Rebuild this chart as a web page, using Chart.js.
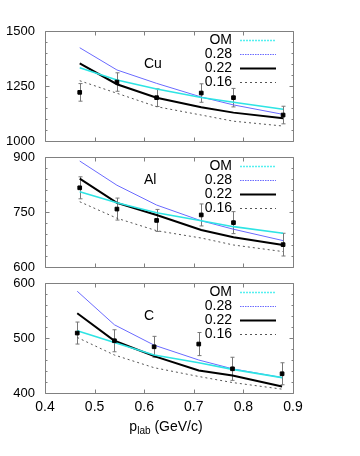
<!DOCTYPE html>
<html>
<head>
<meta charset="utf-8">
<script src="https://cdn.jsdelivr.net/npm/chart.js@4.4.1/dist/chart.umd.min.js"></script>
<style>
  body { margin: 0; background: #fff; }
  #wrap { position: relative; width: 360px; height: 456px; }
  canvas { position: absolute; left: 0; top: 0; }
  #xtitle { position: absolute; left: 0; width: 332px; top: 418px; text-align: center;
            font: 14px "Liberation Sans", Arial, sans-serif; color: #000; }
  #xtitle sub { font-size: 10px; vertical-align: -3px; line-height: 0; }
</style>
</head>
<body>
<div id="wrap">
  <canvas id="cu" width="360" height="456"></canvas>
  <canvas id="al" width="360" height="456"></canvas>
  <canvas id="c" width="360" height="456"></canvas>
  <div id="xtitle">p<sub>lab</sub> (GeV/c)</div>
</div>
<script>
// momenta of the measured points
const pLab  = [0.47, 0.545, 0.625, 0.715, 0.78, 0.88];
const pLabC = [0.465, 0.54, 0.62, 0.71, 0.778, 0.878];
const xTickLabels = ['0.4', '0.5', '0.6', '0.7', '0.8', '0.9'];
const curveNames = ['OM', '0.28', '0.22', '0.16'];

// Cu
const cuData = [1221, 1268, 1197, 1218, 1197, 1118];
const cuErr  = [40, 42, 40, 42, 42, 40];
const cuOM   = [1333, 1277, 1236, 1198, 1176, 1144];
const cu028  = [1424, 1323, 1262, 1200, 1164, 1121];
const cu022  = [1353, 1258, 1197, 1153, 1129, 1103];
const cu016  = [1274, 1217, 1156, 1118, 1090, 1068];

// Al
const alData = [816, 758, 727, 742, 721, 661];
const alErr  = [30, 30, 30, 30, 30, 31];
const alOM   = [805, 775, 748, 726, 710, 692];
const al028  = [889, 823, 769, 726, 703, 672];
const al022  = [841, 775, 742, 701, 681, 660];
const al016  = [778, 733, 699, 679, 660, 642];

// C
const cData = [509, 495, 484, 489, 444, 435];
const cErr  = [20, 20, 19, 21, 21, 20];
const cOM   = [513, 492, 469, 455, 443, 428];
const c028  = [585, 524, 487, 460, 444, 428];
const c022  = [545, 495, 467, 441, 432, 412];
const c016  = [501, 469, 446, 430, 419, 407];

const FONT = '"Liberation Sans", Arial, sans-serif';

// frame, inward ticks, error bars, key and target label like gnuplot
const decor = {
  id: 'decor',
  beforeDatasetsDraw(chart) {
    const ctx = chart.ctx, xs = chart.scales.x, ys = chart.scales.y;
    const ds = chart.data.datasets[0];
    ctx.save();
    ctx.strokeStyle = '#777';
    ctx.lineWidth = 1;
    ds.data.forEach((pt, i) => {
      const px = Math.round(xs.getPixelForValue(pt.x)) + 0.5;
      const y1 = ys.getPixelForValue(pt.y + ds.errs[i]);
      const y2 = ys.getPixelForValue(pt.y - ds.errs[i]);
      ctx.beginPath();
      ctx.moveTo(px, y1); ctx.lineTo(px, y2);
      ctx.moveTo(px - 2, y1); ctx.lineTo(px + 2, y1);
      ctx.moveTo(px - 2, y2); ctx.lineTo(px + 2, y2);
      ctx.stroke();
    });
    ctx.restore();
  },
  afterDraw(chart, args, opts) {
    const ctx = chart.ctx, a = chart.chartArea;
    const xs = chart.scales.x, ys = chart.scales.y;
    const L = Math.round(a.left) + 0.5, R = Math.round(a.right) + 0.5;
    const T = Math.round(a.top) + 0.5, B = Math.round(a.bottom) + 0.5;
    ctx.save();
    ctx.setLineDash([]);
    ctx.strokeStyle = '#808080';
    ctx.lineWidth = 1;
    ctx.beginPath();
    ctx.moveTo(L, T); ctx.lineTo(R, T); ctx.lineTo(R, B); ctx.lineTo(L, B); ctx.closePath();
    // x ticks top and bottom
    for (let v = xs.min; v <= xs.max + 1e-9; v += 0.1) {
      const px = Math.round(xs.getPixelForValue(v)) + 0.5;
      ctx.moveTo(px, T); ctx.lineTo(px, T + 4);
      ctx.moveTo(px, B); ctx.lineTo(px, B - 4);
    }
    // y ticks left and right, minor ones shorter
    for (let v = ys.min; v <= ys.max + 1e-9; v += opts.minor) {
      const py = Math.round(ys.getPixelForValue(v)) + 0.5;
      const len = Math.abs((v - ys.min) % opts.major) < 1e-6 ? 4 : 2;
      ctx.moveTo(L, py); ctx.lineTo(L + len, py);
      ctx.moveTo(R, py); ctx.lineTo(R - len, py);
    }
    ctx.stroke();

    // key
    ctx.font = '14px ' + FONT;
    ctx.fillStyle = '#000';
    ctx.textBaseline = 'middle';
    ctx.textAlign = 'right';
    chart.data.datasets.slice(1).forEach((ds, i) => {
      const ry = Math.round(a.top + 9 + i * 14) + 0.5;
      ctx.fillText(ds.label, a.right - 61, ry);
      ctx.save();
      ctx.strokeStyle = ds.keyColor || ds.borderColor;
      ctx.lineWidth = ds.borderWidth;
      ctx.setLineDash(ds.keyDash || ds.borderDash || []);
      ctx.beginPath();
      ctx.moveTo(a.right - 53, ry);
      ctx.lineTo(a.right - 17, ry);
      ctx.stroke();
      ctx.restore();
    });

    // target label
    ctx.textAlign = 'left';
    ctx.fillText(opts.label, a.left + 99, a.top + opts.labelDy);
    ctx.restore();
  }
};

function pts(xv, yv) {
  return xv.map((x, i) => ({ x: x, y: yv[i] }));
}

function makePanel(id, xv, data, errs, curves, p) {
  const styles = [
    { borderColor: '#2ee4e4', borderWidth: 1.6, borderDash: [], keyColor: '#55f0f0', keyDash: [2, 1] },
    { borderColor: '#6a6aff', borderWidth: 1, borderDash: [], keyDash: [1.5, 1] },
    { borderColor: '#000000', borderWidth: 2, borderDash: [] },
    { borderColor: '#555555', borderWidth: 1, borderDash: [2, 3] }
  ];
  const datasets = [{
    label: 'data',
    data: pts(xv, data),
    errs: errs,
    showLine: false,
    pointStyle: 'rect',
    pointRadius: 2.6,
    pointBorderWidth: 1,
    pointBackgroundColor: '#000',
    pointBorderColor: '#000'
  }];
  curves.forEach((c, i) => {
    datasets.push(Object.assign({
      label: curveNames[i],
      data: pts(xv, c),
      showLine: true,
      pointRadius: 0,
      tension: 0,
      fill: false
    }, styles[i]));
  });

  const xScale = {
    type: 'linear',
    display: p.showX,
    min: 0.4, max: 0.9,
    grid: { display: false, drawTicks: false },
    border: { display: false },
    ticks: {
      stepSize: 0.1,
      padding: 6,
      color: '#000',
      font: { family: FONT, size: 14 },
      callback: (v) => xTickLabels[Math.round((v - 0.4) * 10)]
    }
  };
  if (p.showX) xScale.afterFit = (s) => { s.height = 30; };

  new Chart(document.getElementById(id), {
    type: 'scatter',
    data: { datasets: datasets },
    options: {
      responsive: false,
      animation: false,
      events: [],
      layout: { padding: { left: 0, right: 67, top: p.top, bottom: p.bottom } },
      plugins: {
        legend: { display: false },
        tooltip: { enabled: false },
        decor: { label: p.label, labelDy: p.labelDy, major: p.major, minor: p.minor }
      },
      scales: {
        x: xScale,
        y: {
          type: 'linear',
          min: p.yMin, max: p.yMax,
          grid: { display: false, drawTicks: false },
          border: { display: false },
          ticks: {
            stepSize: p.major,
            padding: 10,
            color: '#000',
            font: { family: FONT, size: 13 },
            callback: (v) => String(v)
          },
          afterFit: (s) => { s.width = 45; }
        }
      }
    },
    plugins: [decor]
  });
}

makePanel('cu', pLab, cuData, cuErr, [cuOM, cu028, cu022, cu016],
  { top: 31, bottom: 315, yMin: 1000, yMax: 1500, major: 250, minor: 50,
    label: 'Cu', labelDy: 33, showX: false });
makePanel('al', pLab, alData, alErr, [alOM, al028, al022, al016],
  { top: 157, bottom: 189, yMin: 600, yMax: 900, major: 150, minor: 30,
    label: 'Al', labelDy: 23, showX: false });
makePanel('c', pLabC, cData, cErr, [cOM, c028, c022, c016],
  { top: 283, bottom: 33, yMin: 400, yMax: 600, major: 100, minor: 20,
    label: 'C', labelDy: 33, showX: true });
</script>
</body>
</html>
